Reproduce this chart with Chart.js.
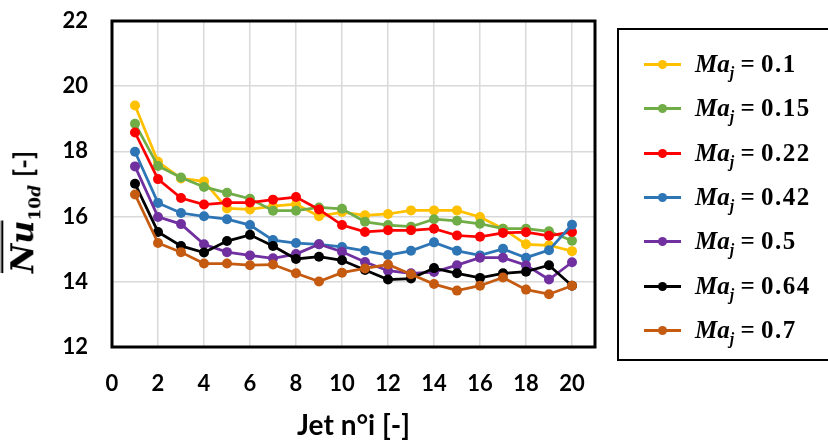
<!DOCTYPE html>
<html>
<head>
<meta charset="utf-8">
<script src="https://cdn.jsdelivr.net/npm/chart.js@4"></script>
<style>
    body { margin: 0; background: #fff; }
    #wrap { position: relative; width: 828px; height: 446px; overflow: hidden; }
    #ytitle {
        position: absolute; left: 24px; top: 212px;
        transform: translate(-50%, -50%) rotate(-90deg);
        white-space: nowrap; font-size: 32px;
    }
    #ytitle .nu { font-family: "DejaVu Serif"; font-weight: bold; font-style: italic;
        text-decoration: overline double; text-decoration-thickness: 1.5px; }
    #ytitle sub { font-family: "DejaVu Serif"; font-weight: bold; font-size: 17px; }
    #ytitle sub i { font-style: italic; }
    #ytitle .unit { font-family: Lato; font-weight: bold; font-size: 26px; }
    #legend {
        position: absolute; left: 617px; top: 28px; width: 240px; height: 333px;
        border: 2.5px solid #000; box-sizing: border-box;
    }
    .item { position: absolute; left: 0; height: 30px; }
    .item .ln { position: absolute; left: 25px; top: 14px; width: 37px; height: 3px; }
    .item .dot { position: absolute; left: 39px; top: 11px; width: 9px; height: 9px; border-radius: 50%; }
    .item .txt { position: absolute; left: 76px; top: 0; white-space: nowrap;
        font-family: "Liberation Serif"; font-weight: bold; font-size: 25px; line-height: 30px; }
    .item .txt i { font-style: italic; }
    .item .txt sub { font-size: 16px; font-style: italic; }
    .item .txt .v { letter-spacing: 1.5px; }
</style>
</head>
<body>
<div id="wrap">
    <canvas id="chart" width="828" height="446"></canvas>
    <div id="ytitle"><span class="nu">Nu</span><sub>10<i>d</i></sub> <span class="unit">[-]</span></div>
    <div id="legend"></div>
</div>
<script>
var jets = [1, 2, 3, 4, 5, 6, 7, 8, 9, 10, 11, 12, 13, 14, 15, 16, 17, 18, 19, 20];
var machs = ['0.1', '0.15', '0.22', '0.42', '0.5', '0.64', '0.7'];
var colors = ['#FFC000', '#70AD47', '#FF0000', '#2E75B6', '#7030A0', '#000000', '#C55A11'];

var ma010 = [19.41, 17.68, 17.17, 17.08, 16.25, 16.22, 16.32, 16.38, 16.01, 16.14, 16.04, 16.08, 16.19, 16.19, 16.19, 15.99, 15.63, 15.15, 15.12, 14.94];
var ma015 = [18.85, 17.55, 17.20, 16.91, 16.73, 16.55, 16.18, 16.18, 16.28, 16.24, 15.84, 15.74, 15.69, 15.92, 15.87, 15.78, 15.63, 15.63, 15.55, 15.26];
var ma022 = [18.58, 17.15, 16.57, 16.37, 16.43, 16.43, 16.52, 16.60, 16.22, 15.74, 15.53, 15.58, 15.58, 15.63, 15.42, 15.38, 15.50, 15.52, 15.41, 15.53];
var ma042 = [17.99, 16.42, 16.11, 16.01, 15.92, 15.74, 15.28, 15.19, 15.15, 15.07, 14.95, 14.82, 14.95, 15.21, 14.95, 14.81, 15.01, 14.74, 14.97, 15.75];
var ma050 = [17.54, 15.99, 15.77, 15.15, 14.91, 14.81, 14.72, 14.85, 15.15, 14.92, 14.61, 14.34, 14.26, 14.30, 14.51, 14.74, 14.74, 14.51, 14.07, 14.60];
var ma064 = [17.01, 15.53, 15.10, 14.90, 15.25, 15.44, 15.10, 14.70, 14.77, 14.66, 14.36, 14.07, 14.10, 14.42, 14.26, 14.12, 14.26, 14.31, 14.51, 13.88];
var ma070 = [16.68, 15.19, 14.91, 14.56, 14.56, 14.51, 14.53, 14.26, 14.01, 14.28, 14.41, 14.53, 14.23, 13.93, 13.73, 13.88, 14.13, 13.76, 13.62, 13.88];
var series = [ma010, ma015, ma022, ma042, ma050, ma064, ma070];

// black frame round the plot area
var framePlugin = {
    id: 'frame',
    afterDraw: function (chart) {
        var a = chart.chartArea;
        var ctx = chart.ctx;
        ctx.save();
        ctx.strokeStyle = '#000';
        ctx.lineWidth = 3;
        ctx.strokeRect(a.left, a.top, a.right - a.left, a.bottom - a.top);
        ctx.restore();
    }
};

// fixed axis sizes, no extra label padding
function fixX(scale) {
    scale.height = 99;
    scale.paddingTop = scale.paddingBottom = scale.paddingLeft = scale.paddingRight = 0;
}
function fixY(scale) {
    scale.width = 112;
    scale.paddingTop = scale.paddingBottom = scale.paddingLeft = scale.paddingRight = 0;
}

function buildDatasets() {
    var sets = [];
    for (var i = 0; i < series.length; i++) {
        var pts = [];
        for (var j = 0; j < jets.length; j++) {
            pts.push({ x: jets[j], y: series[i][j] });
        }
        sets.push({
            label: 'Ma_j = ' + machs[i],
            data: pts,
            borderColor: colors[i],
            backgroundColor: colors[i],
            borderWidth: 2.75,
            pointRadius: 5,
            pointBorderWidth: 0,
            tension: 0,
            order: series.length - 1 - i
        });
    }
    return sets;
}

function buildLegend() {
    var box = document.getElementById('legend');
    for (var i = 0; i < machs.length; i++) {
        var it = document.createElement('div');
        it.className = 'item';
        it.style.top = (19 + i * 44.3) + 'px';
        it.innerHTML = '<div class="ln" style="background:' + colors[i] + '"></div>' +
            '<div class="dot" style="background:' + colors[i] + '"></div>' +
            '<div class="txt"><i>Ma</i><sub>j</sub> = <span class="v">' + machs[i] + '</span></div>';
        box.appendChild(it);
    }
}

buildLegend();

new Chart(document.getElementById('chart').getContext('2d'), {
    type: 'line',
    data: { datasets: buildDatasets() },
    plugins: [framePlugin],
    options: {
        responsive: false,
        animation: false,
        layout: { autoPadding: false, padding: { left: 0, top: 21, right: 233, bottom: 0 } },
        plugins: {
            legend: { display: false },
            tooltip: { enabled: false }
        },
        scales: {
            x: {
                type: 'linear',
                min: 0,
                max: 21,
                afterFit: fixX,
                grid: { color: '#d9d9d9', lineWidth: 1.5, drawTicks: false },
                border: { display: false },
                ticks: {
                    stepSize: 2,
                    includeBounds: false,
                    padding: 24,
                    color: '#000',
                    font: { family: 'Lato', weight: 'bold', size: 22 }
                },
                title: {
                    display: true,
                    text: 'Jet n°i [-]',
                    color: '#000',
                    padding: { top: 0, bottom: 3 },
                    font: { family: 'Lato', weight: 'bold', size: 28 }
                }
            },
            y: {
                min: 12,
                max: 22,
                afterFit: fixY,
                grid: { color: '#d9d9d9', lineWidth: 1.5, drawTicks: false },
                border: { display: false },
                ticks: {
                    stepSize: 2,
                    padding: 24,
                    color: '#000',
                    font: { family: 'Lato', weight: 'bold', size: 22 }
                }
            }
        }
    }
});
</script>
</body>
</html>
